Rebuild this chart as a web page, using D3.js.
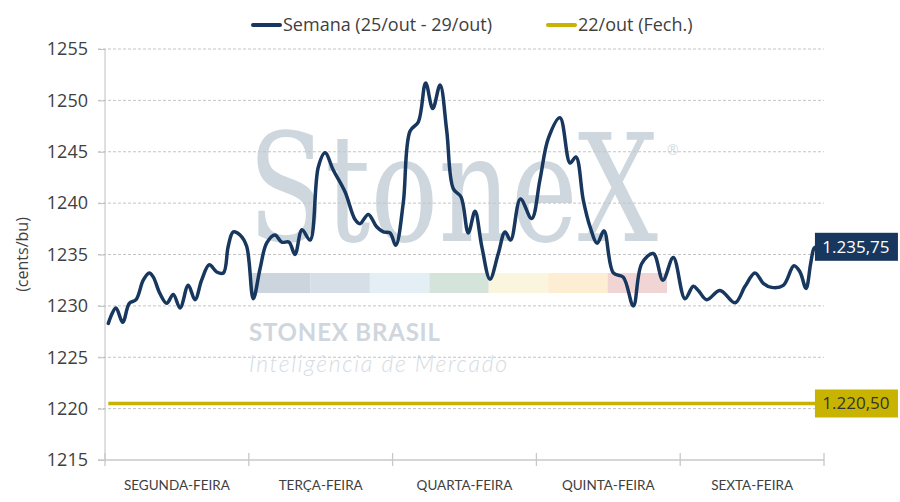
<!DOCTYPE html>
<html>
<head>
    <meta charset="UTF-8">
    <script src="https://d3js.org/d3.v7.min.js"></script>
    <style>
        body { margin: 0; background: #fff; }
        text { font-family: "Open Sans", Lato, sans-serif; }
    </style>
</head>
<body>
    <svg></svg>
    <script>
        let width = 900, height = 502;

        // data
        let days = ["SEGUNDA-FEIRA", "TERÇA-FEIRA", "QUARTA-FEIRA", "QUINTA-FEIRA", "SEXTA-FEIRA"];
        let yTicks = [1215, 1220, 1225, 1230, 1235, 1240, 1245, 1250, 1255];
        // position in the week (days from monday open)
        let weekTimes = [0.023, 0.076, 0.123, 0.169, 0.216, 0.266, 0.308, 0.336, 0.382, 0.429,
            0.475, 0.522, 0.579, 0.626, 0.672, 0.725, 0.777, 0.823, 0.857, 0.892,
            0.939, 0.985, 1.031, 1.078, 1.124, 1.182, 1.229, 1.280, 1.321, 1.370,
            1.426, 1.483, 1.530, 1.588, 1.669, 1.739, 1.773, 1.831, 1.889, 1.935,
            1.982, 2.022, 2.074, 2.121, 2.179, 2.230, 2.279, 2.330, 2.376, 2.422,
            2.476, 2.526, 2.573, 2.620, 2.677, 2.735, 2.782, 2.821, 2.889, 2.967,
            3.025, 3.083, 3.164, 3.234, 3.275, 3.326, 3.373, 3.423, 3.470, 3.535,
            3.604, 3.674, 3.732, 3.813, 3.880, 3.952, 4.033, 4.091, 4.126, 4.184,
            4.277, 4.381, 4.451, 4.520, 4.578, 4.636, 4.717, 4.791, 4.833, 4.875,
            4.907, 4.930, 4.944];
        let weekPrices = [1228.3, 1229.8, 1228.4, 1230.25, 1230.6, 1232.5, 1233.2, 1232.8, 1231.2, 1230.25,
            1231.1, 1229.8, 1232.0, 1230.6, 1232.5, 1234.0, 1233.3, 1233.2, 1235.8, 1237.2,
            1236.9, 1235.8, 1230.7, 1233.6, 1236.1, 1236.9, 1236.2, 1236.2, 1235.0, 1237.4,
            1236.4, 1243.5, 1244.9, 1243.2, 1241.1, 1238.4, 1238.0, 1238.9, 1237.7, 1237.2,
            1237.1, 1235.9, 1240.0, 1247.0, 1247.9, 1251.7, 1249.2, 1251.5, 1247.1, 1241.4,
            1240.6, 1237.1, 1239.2, 1235.8, 1232.6, 1235.1, 1237.2, 1236.4, 1240.4, 1238.5,
            1242.3, 1246.3, 1248.3, 1243.9, 1244.5, 1240.3, 1237.7, 1236.1, 1237.3, 1233.2,
            1232.8, 1230.0, 1234.1, 1235.1, 1232.5, 1234.7, 1230.7, 1231.9, 1231.5, 1230.6,
            1231.5, 1230.3, 1231.9, 1233.2, 1232.2, 1231.8, 1232.0, 1233.9, 1233.3, 1231.7,
            1234.1, 1235.6, 1235.75];
        let lastClose = 1220.50;
        let seriesNames = ["Semana (25/out - 29/out)", "22/out (Fech.)"];
        let seriesColors = ["#17375e", "#c8b400"];
        let bandColors = ["#ccd5dd", "#d6dee8", "#e3eef5", "#d5e4db", "#faf5dd", "#fdedd2", "#f1d5d5"];

        let margin = { left: 105, right: 76, top: 49, bottom: 42 };
        let svg = d3.select("svg").attr("width", width).attr("height", height);

        let x = d3.scaleLinear().domain([0, days.length]).range([margin.left, width - margin.right]);
        let y = d3.scaleLinear().domain([1215, 1255]).range([height - margin.bottom, margin.top]);

        // watermark
        let wm = svg.append("g").attr("id", "watermark");
        wm.append("text").attr("transform", "translate(248,241) scale(1,1.36)")
            .style("font-family", "'DejaVu Serif', 'Liberation Serif', serif")
            .style("font-size", "110px").attr("fill", "#ced7de").attr("textLength", 410)
            .attr("lengthAdjust", "spacingAndGlyphs")
            .text("StoneX");
        wm.append("text").attr("x", 667).attr("y", 155).style("font-size", "14px")
            .attr("fill", "#d5dce2").text("®");
        let bandX = d3.scaleLinear().domain([0, bandColors.length]).range([251, 667]);
        wm.selectAll("rect").data(bandColors).join("rect")
            .attr("x", (d, i) => bandX(i)).attr("y", 273)
            .attr("width", bandX(1) - bandX(0)).attr("height", 20)
            .attr("fill", d => d);
        wm.append("text").attr("x", 249).attr("y", 341)
            .style("font-family", "Lato, sans-serif")
            .style("font-size", "24px").style("font-weight", "bold")
            .attr("textLength", 191).attr("lengthAdjust", "spacing")
            .attr("fill", "#cfd6dd").text("STONEX BRASIL");
        wm.append("text").attr("x", 249).attr("y", 372)
            .style("font-family", "Lato, sans-serif")
            .style("font-size", "23px").style("font-style", "italic").style("font-weight", 300)
            .attr("textLength", 258).attr("lengthAdjust", "spacing")
            .attr("fill", "#d6dce2").text("Inteligência de Mercado");

        // grid
        svg.append("g").selectAll("line").data(yTicks.slice(1)).join("line")
            .attr("x1", margin.left - 7).attr("x2", width - margin.right)
            .attr("y1", d => y(d)).attr("y2", d => y(d))
            .attr("stroke", "#c4c4c4").attr("stroke-dasharray", "3,2").attr("stroke-width", 1);

        // y axis
        let yAxis = svg.append("g").attr("transform", "translate(" + margin.left + ",0)")
            .call(d3.axisLeft(y).tickValues(yTicks).tickSize(7).tickPadding(10).tickFormat(d3.format("d")));
        yAxis.select(".domain").attr("stroke", "#c0c0c0");
        yAxis.selectAll(".tick line").attr("stroke", "#c0c0c0");
        yAxis.selectAll("text").style("font-size", "18px").attr("fill", "#404040");
        yAxis.select(".domain").attr("d", "M0," + y(1255) + "V" + y(1215));

        svg.append("text")
            .attr("transform", "translate(28," + y(1235) + ") rotate(-90)")
            .attr("text-anchor", "middle").style("font-size", "16px").attr("fill", "#404040")
            .text("(cents/bu)");

        // x axis
        let xAxis = svg.append("g").attr("transform", "translate(0," + y(1215) + ")");
        xAxis.append("line").attr("x1", margin.left - 7).attr("x2", x(days.length))
            .attr("stroke", "#c8c8c8").attr("stroke-width", 1.5);
        xAxis.selectAll(".tk").data(d3.range(days.length + 1)).join("line")
            .attr("class", "tk").attr("x1", d => x(d)).attr("x2", d => x(d))
            .attr("y1", -7).attr("y2", 6).attr("stroke", "#c8c8c8").attr("stroke-width", 1.3);
        xAxis.selectAll("text").data(days).join("text")
            .attr("x", (d, i) => x(i + 0.5)).attr("y", 30).attr("text-anchor", "middle")
            .style("font-family", "Lato, sans-serif")
            .style("font-size", "13.5px").attr("fill", "#404040").text(d => d);

        // lines
        let line = d3.line().x(d => x(d[0])).y(d => y(d[1])).curve(d3.curveCatmullRom.alpha(0.5));
        let tStart = weekTimes[0], tEnd = weekTimes[weekTimes.length - 1];

        svg.append("path").datum([[tStart, lastClose], [tEnd, lastClose]])
            .attr("d", line).attr("fill", "none").attr("stroke", seriesColors[1]).attr("stroke-width", 3.5);

        svg.append("path").datum(weekTimes.map((t, i) => [t, weekPrices[i]]))
            .attr("d", line).attr("fill", "none").attr("stroke", seriesColors[0])
            .attr("stroke-width", 3.5).attr("stroke-linejoin", "round").attr("stroke-linecap", "round");

        // value labels
        let fmt = d3.formatLocale({ decimal: ",", thousands: ".", grouping: [3] }).format(",.2f");
        let labels = [
            { v: weekPrices[weekPrices.length - 1], bg: seriesColors[0], fg: "#ffffff" },
            { v: lastClose, bg: seriesColors[1], fg: "#333333" }
        ];
        let lab = svg.append("g").selectAll("g").data(labels).join("g")
            .attr("transform", d => "translate(" + (x(tEnd) - 1) + "," + y(d.v) + ")");
        lab.append("rect").attr("x", 0).attr("y", -14).attr("width", 83).attr("height", 28)
            .attr("fill", d => d.bg);
        lab.append("text").attr("x", 41).attr("y", 6).attr("text-anchor", "middle")
            .style("font-size", "17px").attr("fill", d => d.fg).text(d => fmt(d.v));

        // legend
        let legendX = [253, 548];
        let leg = svg.append("g").selectAll("g").data(seriesNames).join("g")
            .attr("transform", (d, i) => "translate(" + legendX[i] + ",25)");
        leg.append("line").attr("x1", 0).attr("x2", 27).attr("stroke", (d, i) => seriesColors[i])
            .attr("stroke-width", 4).attr("stroke-linecap", "round");
        leg.append("text").attr("x", 30).attr("y", 6).style("font-size", "18px").attr("fill", "#404040")
            .text(d => d);
    </script>
</body>
</html>
